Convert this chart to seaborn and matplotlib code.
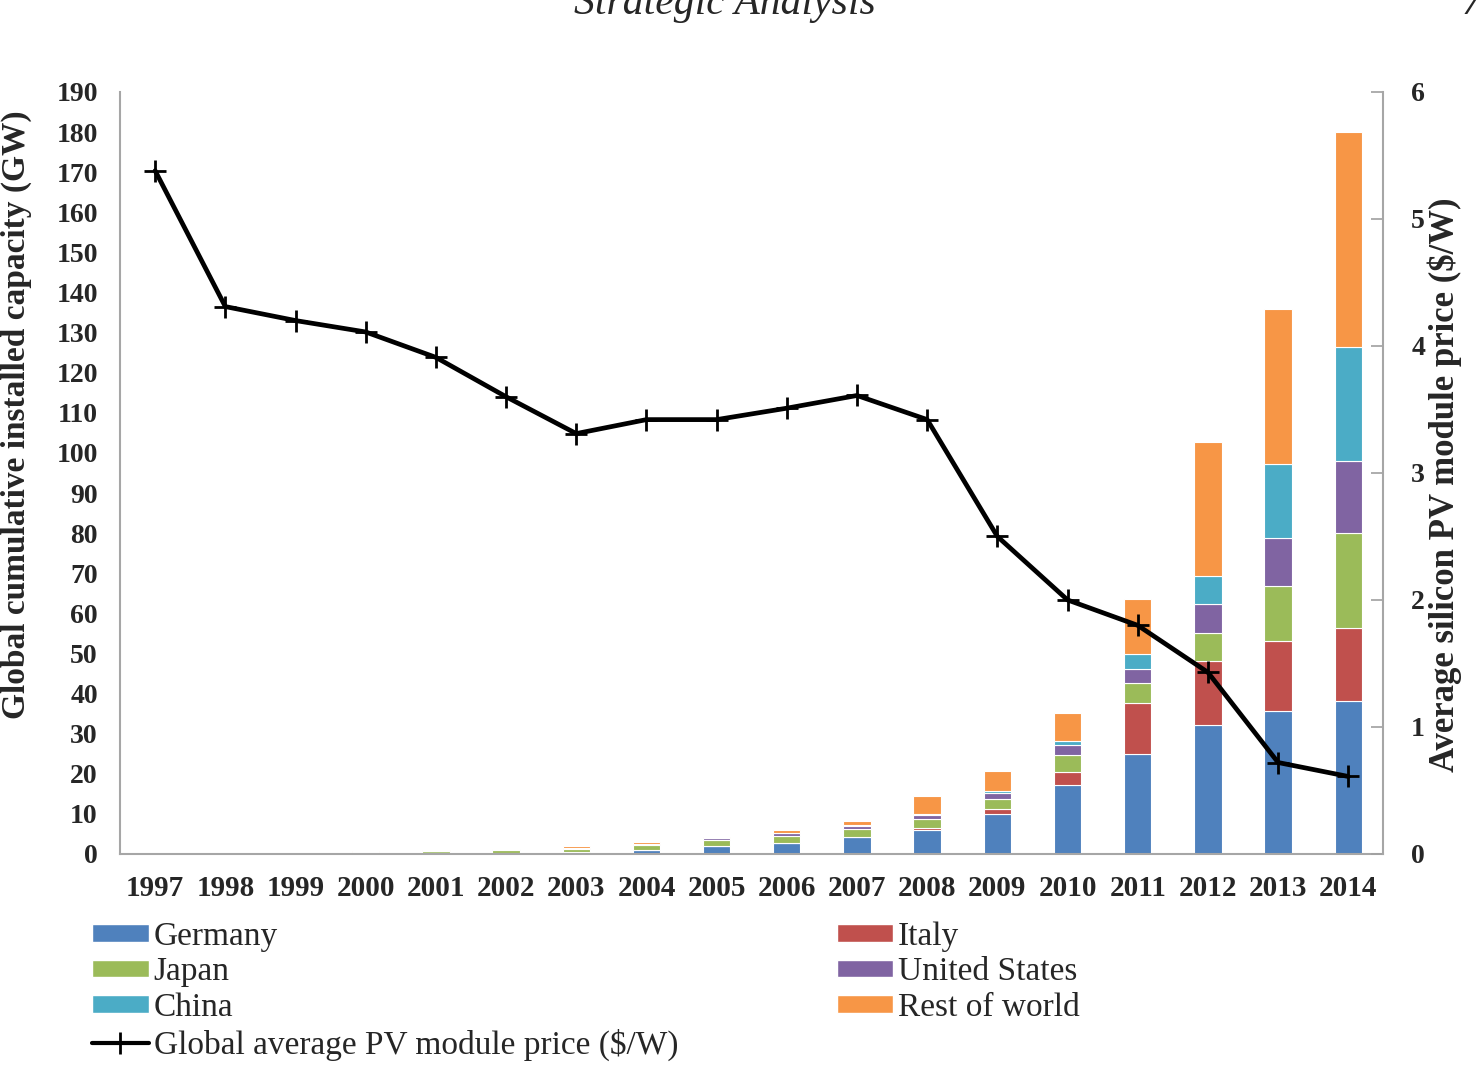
import numpy as np
import matplotlib
matplotlib.use("Agg")
import matplotlib.pyplot as plt
import seaborn as sns
from matplotlib.patches import Patch
from matplotlib.lines import Line2D

# Data
years = [str(y) for y in range(1997, 2015)]
germany = [0, 0, 0, 0.1, 0.2, 0.3, 0.4, 1.1, 2.0, 2.8, 4.2, 6.0, 10.0, 17.2, 25.0, 32.2, 35.7, 38.2]
italy = [0, 0, 0, 0, 0, 0, 0, 0, 0, 0.05, 0.1, 0.5, 1.1, 3.3, 12.7, 16.0, 17.4, 18.2]
japan = [0, 0, 0, 0.3, 0.45, 0.64, 0.86, 1.1, 1.4, 1.7, 1.9, 2.1, 2.6, 4.2, 4.9, 7.0, 13.7, 23.6]
usa = [0, 0, 0, 0.1, 0.17, 0.2, 0.3, 0.4, 0.5, 0.6, 0.8, 1.2, 1.6, 2.5, 3.6, 7.0, 12.0, 18.0]
china = [0, 0, 0, 0, 0, 0, 0, 0, 0, 0, 0.1, 0.2, 0.3, 0.9, 3.6, 7.2, 18.5, 28.4]
rest = [0, 0, 0, 0.3, 0.2, 0.1, 0.4, 0.4, 0.4, 0.9, 1.2, 4.5, 5.2, 7.0, 13.8, 33.4, 38.7, 53.6]
price = [5.38, 4.31, 4.2, 4.11, 3.91, 3.6, 3.31, 3.42, 3.42, 3.51, 3.61, 3.42, 2.5, 2.0, 1.8, 1.43, 0.72, 0.61]

series = [
    ("Germany", germany, "#4F81BD"),
    ("Italy", italy, "#C0504D"),
    ("Japan", japan, "#9BBB59"),
    ("United States", usa, "#8064A2"),
    ("China", china, "#4BACC6"),
    ("Rest of world", rest, "#F79646"),
]

sns.set_style("white")
plt.rcParams["font.family"] = ["Liberation Serif", "DejaVu Serif"]

fig = plt.figure(figsize=(14.84, 10.87), dpi=100)
ax = fig.add_axes([0.0809, 0.2144, 0.8513, 0.701])

# stacked bars, one seaborn call per country
bottom = np.zeros(len(years))
for name, vals, col in series:
    sns.barplot(x=years, y=vals, color=col, bottom=bottom, width=0.39,
                edgecolor="white", linewidth=0.8, errorbar=None, ax=ax,
                saturation=1)
    bottom = bottom + np.array(vals)

ax.set_xlim(-0.5, len(years) - 0.5)
ax.set_ylim(0, 190)
ax.set_yticks(range(0, 191, 10))
ax.tick_params(axis="y", length=0, pad=16, labelsize=20)
ax.tick_params(axis="x", length=0, pad=15, labelsize=21)
for lab in ax.get_xticklabels() + ax.get_yticklabels():
    lab.set_fontweight("bold")
ax.set_xlabel("")
ax.set_ylabel("Global cumulative installed capacity (GW)", fontsize=24,
              fontweight="bold")
ax.yaxis.set_label_coords(-0.0697, 0.576)

# price line on the secondary axis
ax2 = ax.twinx()
sns.lineplot(x=np.arange(len(years)), y=price, color="black", linewidth=3.4,
             marker="+", markersize=16, markeredgewidth=2, markeredgecolor="black",
             ax=ax2)
ax2.set_ylim(0, 6)
ax2.set_yticks(range(0, 7))
ax2.tick_params(axis="y", direction="in", length=9, width=1.2, color="#A0A0A0",
                pad=20, labelsize=20)
for lab in ax2.get_yticklabels():
    lab.set_fontweight("bold")
ax2.set_ylabel("Average silicon PV module price ($/W)", fontsize=25,
               fontweight="bold")
ax2.yaxis.set_label_coords(1.035, 0.484)

for a in (ax, ax2):
    a.spines["top"].set_visible(False)
    for s in ("left", "right", "bottom"):
        a.spines[s].set_color("#A6A6A6")
        a.spines[s].set_linewidth(1.5)
ax.spines["right"].set_visible(False)
ax2.spines["left"].set_visible(False)
ax2.spines["bottom"].set_visible(False)

# Legend (two columns, filled column-wise like the original)
handles = [
    Patch(facecolor="#4F81BD"), Patch(facecolor="#9BBB59"), Patch(facecolor="#4BACC6"),
    Line2D([0], [0], color="black", linewidth=3, marker="+", markersize=16,
           markeredgewidth=2),
    Patch(facecolor="#C0504D"), Patch(facecolor="#8064A2"), Patch(facecolor="#F79646"),
]
labels = ["Germany", "Japan", "China", "Global average PV module price ($/W)",
          "Italy", "United States", "Rest of world"]
fig.legend(handles, labels, loc="upper left", bbox_to_anchor=(92 / 1484, 1 - 921 / 1087),
           ncol=2, frameon=False, fontsize=24, handlelength=1.7, handleheight=0.45,
           handletextpad=0.15, columnspacing=4.75, labelspacing=0.16, borderpad=0,
           borderaxespad=0)

# Page header, cut off at the top of the scanned page
fig.text(725 / 1484, 0.997, "Strategic Analysis", fontsize=30, style="italic",
         ha="center", va="center")
fig.text(0.999, 0.997, "7", fontsize=30, style="italic", ha="right", va="center")

fig.savefig("out.png", dpi=100)
